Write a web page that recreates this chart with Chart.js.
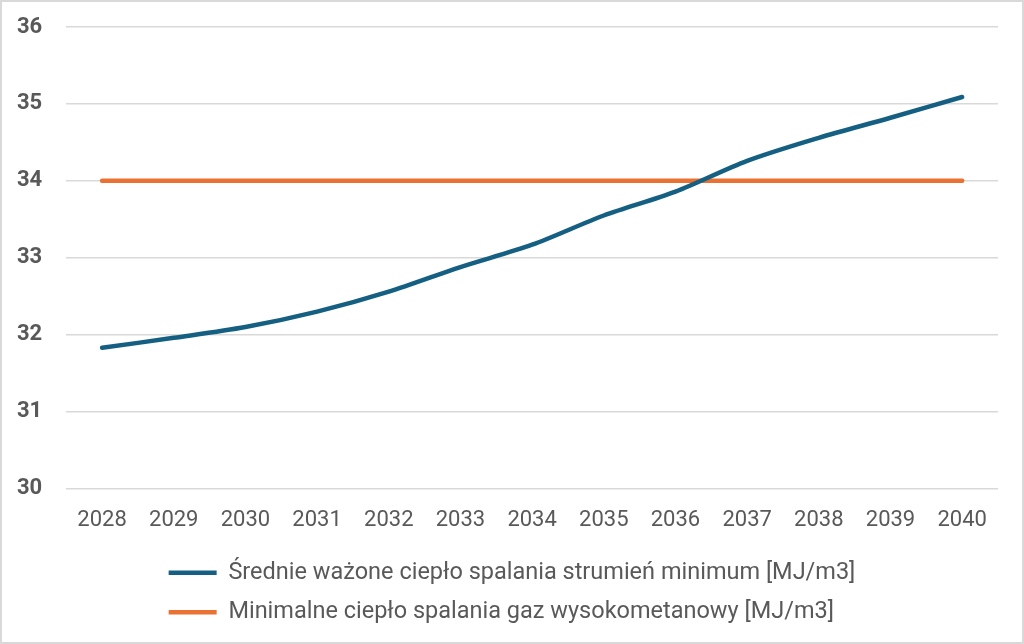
<!DOCTYPE html>
<html>
<head>
<meta charset="utf-8">
<script src="https://cdn.jsdelivr.net/npm/chart.js@4"></script>
<style>
  html, body { margin: 0; padding: 0; background: #fff; }
  #wrap { position: relative; width: 1024px; height: 644px; box-sizing: border-box; border: 2px solid #d9d9d9; }
</style>
</head>
<body>
<div id="wrap"><canvas id="myChart"></canvas></div>
<script>
const years = ['2028', '2029', '2030', '2031', '2032', '2033', '2034', '2035', '2036', '2037', '2038', '2039', '2040'];
const srednie = [31.83, 31.96, 32.10, 32.30, 32.56, 32.88, 33.17, 33.55, 33.86, 34.26, 34.56, 34.82, 35.09];
const minimalne = [34, 34, 34, 34, 34, 34, 34, 34, 34, 34, 34, 34, 34];
const labelSrednie = 'Średnie ważone ciepło spalania strumień minimum [MJ/m3]';
const labelMin = 'Minimalne ciepło spalania gaz wysokometanowy [MJ/m3]';

const FONT = 'Roboto, "Liberation Sans", sans-serif';

// legend rows left-aligned, block centred a bit right of the middle (as in Excel)
const legendBlock = {
    id: 'legendBlock',
    afterLayout(chart) {
        const lg = chart.legend;
        if (!lg || !lg.lineWidths) return;
        const w = Math.max(...lg.lineWidths);
        const pad = lg.options.labels.padding;
        const left = (chart.width - w) / 2 + 8 - pad;
        const shift = left - lg.left;
        lg.left += shift;
        lg.right += shift;
    }
};

const ctx = document.getElementById('myChart').getContext('2d');
const myChart = new Chart(ctx, {
    type: 'line',
    data: {
        labels: years,
        datasets: [{
            label: labelSrednie,
            data: srednie,
            borderColor: '#156082',
            backgroundColor: '#156082',
            borderWidth: 4.5,
            borderCapStyle: 'round',
            pointRadius: 0,
            tension: 0.3
        }, {
            label: labelMin,
            data: minimalne,
            borderColor: '#E97132',
            backgroundColor: '#E97132',
            borderWidth: 4.5,
            borderCapStyle: 'round',
            pointRadius: 0
        }]
    },
    options: {
        responsive: true,
        maintainAspectRatio: false,
        animation: false,
        layout: { padding: { left: -9, right: 24, top: 0, bottom: 8 } },
        plugins: {
            tooltip: { enabled: false },
            legend: {
                position: 'bottom',
                align: 'start',
                labels: {
                    usePointStyle: true,
                    pointStyle: 'line',
                    pointStyleWidth: 48,
                    boxHeight: 4,
                    padding: 16,
                    color: '#595959',
                    font: { family: FONT, size: 23.5 }
                }
            }
        },
        scales: {
            x: {
                offset: true,
                grid: { display: false },
                border: { display: false },
                ticks: { color: '#595959', font: { family: FONT, size: 22 }, padding: 11 }
            },
            y: {
                min: 30,
                max: 36,
                // tick padding would otherwise also push the plot down from the top
                afterFit(scale) { scale.paddingTop = 25; scale.paddingBottom = 13; },
                ticks: { stepSize: 1, color: '#595959', font: { family: FONT, size: 22, weight: 'bold' }, padding: 24 },
                grid: { color: '#d9d9d9', lineWidth: 1.5, drawTicks: false },
                border: { display: false }
            }
        }
    },
    plugins: [legendBlock]
});
</script>
</body>
</html>
